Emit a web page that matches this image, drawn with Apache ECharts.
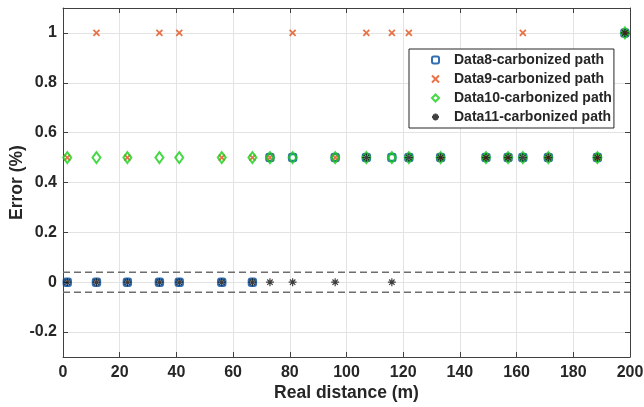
<!DOCTYPE html>
<html>
<head>
<meta charset="utf-8">
<script src="https://cdn.jsdelivr.net/npm/echarts@6/dist/echarts.min.js"></script>
<style>
  html, body { margin: 0; padding: 0; background: #fff; }
  #chart { width: 644px; height: 407px; }
</style>
</head>
<body>
<div id="chart"></div>
<script>
// Measurement positions along the path (m)
const distances = [1.5, 11.8, 22.7, 34, 41, 56, 66.8, 73, 81, 96, 107, 116, 122, 133.2, 149.2, 157, 162.2, 171.2, 188.5, 198.2];

// Error (%) for each data set at the positions above
const data8  = [0, 0, 0, 0, 0, 0, 0, 0.5, 0.5, 0.5, 0.5, 0.5, 0.5, 0.5, 0.5, 0.5, 0.5, 0.5, 0.5, 1];
const data9  = [0.5, 1, 0.5, 1, 1, 0.5, 0.5, 0.5, 1, 0.5, 1, 1, 1, 0.5, 0.5, 0.5, 1, 0.5, 0.5, 1];
const data10 = [0.5, 0.5, 0.5, 0.5, 0.5, 0.5, 0.5, 0.5, 0.5, 0.5, 0.5, 0.5, 0.5, 0.5, 0.5, 0.5, 0.5, 0.5, 0.5, 1];
const data11 = [0, 0, 0, 0, 0, 0, 0, 0, 0, 0, 0.5, 0, 0.5, 0.5, 0.5, 0.5, 0.5, 0.5, 0.5, 1];

const seriesNames = ['Data8-carbonized path', 'Data9-carbonized path', 'Data10-carbonized path', 'Data11-carbonized path'];

// Tolerance band drawn as dashed lines
const bandLevels = [0.04, -0.04];
const xRange = [0, 200];
const yRange = [-0.3, 1.1];
const yTicks = [-0.2, 0, 0.2, 0.4, 0.6, 0.8, 1];

const FONT = "'Liberation Sans', Arial, Helvetica, sans-serif";
const TEXT = '#262626';
const AXIS = '#404040';
const GRID = '#e3e3e3';

const pairs = ys => distances.map((d, i) => [d, ys[i]]);

const xCross = 'path://M0,0L10,10M10,0L0,10';
const asterisk = 'path://M5,0L5,10M0,5L10,5M1.6,1.6L8.4,8.4M8.4,1.6L1.6,8.4';

const chart = echarts.init(document.getElementById('chart'), null, { renderer: 'canvas' });

const labelStyle = { fontFamily: FONT, fontWeight: 'bold', fontSize: 16, color: TEXT };
const titleStyle = { fontFamily: FONT, fontWeight: 'bold', fontSize: 17.5, color: TEXT };

chart.setOption({
  animation: false,
  backgroundColor: '#fff',
  grid: { left: 63, right: 14, top: 8, bottom: 50, containLabel: false, outerBoundsMode: 'none' },
  legend: {
    data: seriesNames,
    orient: 'vertical',
    left: 409,
    top: 49,
    padding: [4, 2, 4, 22],
    itemWidth: 7,
    itemHeight: 7,
    itemGap: 5,
    borderColor: TEXT,
    borderWidth: 1,
    backgroundColor: '#fff',
    textStyle: { fontFamily: FONT, fontWeight: 'bold', fontSize: 14, color: TEXT, lineHeight: 14, padding: [0, 0, 0, 10] }
  },
  xAxis: [{
    type: 'value', min: xRange[0], max: xRange[1], interval: 20,
    name: 'Real distance (m)', nameLocation: 'middle', nameGap: 27, nameMoveOverlap: false,
    nameTextStyle: titleStyle,
    axisLine: { show: true, onZero: false, lineStyle: { color: AXIS, width: 1 } },
    axisTick: { show: true, inside: true, length: 5, lineStyle: { color: AXIS } },
    axisLabel: Object.assign({ margin: 8 }, labelStyle),
    splitLine: { show: true, lineStyle: { color: GRID, width: 1 } }
  }, {
    type: 'value', position: 'top', min: xRange[0], max: xRange[1], interval: 20,
    axisLine: { show: true, onZero: false, lineStyle: { color: AXIS, width: 1 } },
    axisTick: { show: true, inside: true, length: 5, lineStyle: { color: AXIS } },
    axisLabel: { show: false },
    splitLine: { show: false }
  }],
  yAxis: [{
    type: 'value', min: yRange[0], max: yRange[1],
    name: 'Error (%)', nameLocation: 'middle', nameGap: 37, nameMoveOverlap: false,
    nameTextStyle: titleStyle,
    axisLine: { show: true, onZero: false, lineStyle: { color: AXIS, width: 1 } },
    axisTick: { show: true, inside: true, length: 5, lineStyle: { color: AXIS }, customValues: yTicks },
    axisLabel: Object.assign({ margin: 6, customValues: yTicks }, labelStyle),
    splitLine: { show: true, lineStyle: { color: GRID, width: 1 } }
  }, {
    type: 'value', position: 'right', min: yRange[0], max: yRange[1],
    axisLine: { show: true, onZero: false, lineStyle: { color: AXIS, width: 1 } },
    axisTick: { show: true, inside: true, length: 5, lineStyle: { color: AXIS }, customValues: yTicks },
    axisLabel: { show: false },
    splitLine: { show: false }
  }],
  series: [
    ...bandLevels.map(v => ({
      type: 'line', silent: true, symbol: 'none', z: 1,
      data: [[xRange[0], v], [xRange[1], v]],
      lineStyle: { color: '#6e6e6e', width: 1.5, type: [7, 4] }
    })),
    {
      name: seriesNames[0], type: 'scatter', data: pairs(data8),
      symbol: 'roundRect', symbolSize: 7,
      itemStyle: { color: 'rgba(0,0,0,0)', borderColor: '#004a9e', borderWidth: 2.4 }
    },
    {
      name: seriesNames[1], type: 'scatter', data: pairs(data9),
      symbol: xCross, symbolSize: 6,
      itemStyle: { color: 'rgba(0,0,0,0)', borderColor: '#e4501c', borderWidth: 1.8 }
    },
    {
      name: seriesNames[2], type: 'scatter', data: pairs(data10),
      symbol: 'diamond', symbolSize: [8, 11],
      itemStyle: { color: 'rgba(0,0,0,0)', borderColor: '#16d016', borderWidth: 2 }
    },
    {
      name: seriesNames[3], type: 'scatter', data: pairs(data11),
      symbol: asterisk, symbolSize: 8,
      itemStyle: { color: 'rgba(0,0,0,0)', borderColor: '#111111', borderWidth: 1.2 }
    }
  ]
});
</script>
</body>
</html>
